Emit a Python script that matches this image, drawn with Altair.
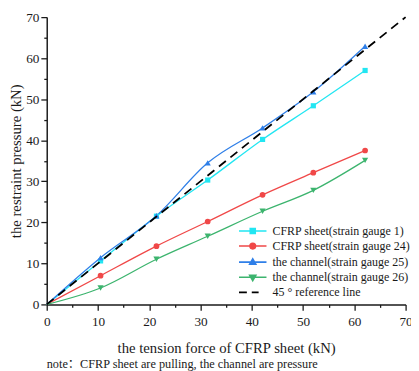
import altair as alt
import pandas as pd

# ---- data ----
x_vals = [0, 10.5, 21.4, 31.4, 42.1, 52.0, 62.1]
gauge1 = [0, 10.6, 21.5, 30.3, 40.2, 48.4, 57.0]
gauge24 = [0, 7.0, 14.2, 20.2, 26.7, 32.1, 37.5]
gauge25 = [0, 11.4, 21.6, 34.5, 43.0, 51.8, 62.9]
gauge26 = [0, 4.0, 11.0, 16.6, 22.7, 27.8, 35.1]
ref_x = [0, 70]
ref_y = [0, 70]

series_names = [
    "CFRP sheet(strain gauge 1)",
    "CFRP sheet(strain gauge 24)",
    "the channel(strain gauge 25)",
    "the channel(strain gauge 26)",
]
ref_name = "45 \u00b0 reference line"
legend_names = series_names + [ref_name]

series_colors = ["#22e6f2", "#f04848", "#2f7fe8", "#3cb46e"]
legend_colors = series_colors + ["#000000"]
marker_shapes = ["square", "circle", "triangle-up", "triangle-down"]
marker_sizes = [28, 34, 40, 40]

LINE = "M-4.67,0H4.67"
legend_paths = [
    LINE + "M-0.85,-0.85H0.85V0.85H-0.85Z",
    LINE + "M0.95,0A0.95,0.95,0,1,1,-0.95,0A0.95,0.95,0,1,1,0.95,0Z",
    LINE + "M0,-1.15L1.05,0.7L-1.05,0.7Z",
    LINE + "M0,1.15L1.05,-0.7L-1.05,-0.7Z",
    "M-4.67,0H-2M-0.33,0H2",
]

rows = []
for name, ys in zip(series_names, [gauge1, gauge24, gauge25, gauge26]):
    for xv, yv in zip(x_vals, ys):
        rows.append({"x": xv, "y": yv, "series": name})
df = pd.DataFrame(rows)
ref_df = pd.DataFrame({"x": ref_x, "y": ref_y, "series": [ref_name, ref_name]})
legend_df = pd.DataFrame({"series": legend_names})

SERIF = "Liberation Serif"
INK = "#1a1a1a"

major_test = "datum.value % 10 === 0"


def make_axis(title, label_pad, title_pad):
    return alt.Axis(
        values=list(range(0, 71, 5)),
        labelExpr=f"{major_test} ? datum.label : ''",
        tickSize={"condition": {"test": major_test, "value": 6}, "value": 3},
        grid=False,
        domainColor=INK,
        domainWidth=1.5,
        tickColor=INK,
        tickWidth=1.3,
        labelFont=SERIF,
        labelFontSize=13.5,
        labelColor=INK,
        labelPadding=label_pad,
        labelFlush=False,
        labelOverlap=False,
        labelBound=False,
        title=title,
        titleFont=SERIF,
        titleFontSize=15,
        titleFontWeight="normal",
        titleColor=INK,
        titlePadding=title_pad,
    )


xscale = alt.Scale(domain=[0, 70], nice=False, zero=False)
yscale = alt.Scale(domain=[0, 70], nice=False, zero=False)
xenc = alt.X("x:Q", scale=xscale, axis=make_axis("the tension force of CFRP sheet (kN)", 4, 14))
yenc = alt.Y("y:Q", scale=yscale, axis=make_axis("the restraint pressure (kN)", 2, 2.5))

color_scale = alt.Scale(domain=series_names, range=series_colors)

lines = alt.Chart(df).mark_line(interpolate="monotone", strokeWidth=1.3).encode(
    x=xenc, y=yenc,
    color=alt.Color("series:N", scale=color_scale, legend=None),
    detail="series:N",
)

marker_layers = []
for name, shp, sz in zip(series_names, marker_shapes, marker_sizes):
    marker_layers.append(
        alt.Chart(df).transform_filter(
            (alt.datum.series == name) & (alt.datum.x > 0)
        ).mark_point(filled=True, shape=shp, size=sz, opacity=1).encode(
            x=xenc, y=yenc,
            color=alt.Color("series:N", scale=color_scale, legend=None),
        )
    )

ref_line = alt.Chart(ref_df).mark_line(color="#000000", strokeWidth=1.8, strokeDash=[9, 6]).encode(
    x=xenc, y=yenc,
)

leg = alt.Legend(
    title=None,
    orient="none",
    legendX=193,
    legendY=212,
    symbolSize=36,
    symbolOffset=11,
    symbolStrokeWidth=1.6,
    labelOffset=14,
    labelFont=SERIF,
    labelFontSize=12.2,
    labelColor=INK,
    labelLimit=300,
    rowPadding=2.4,
    padding=0,
)

legend_layer = alt.Chart(legend_df).transform_filter("false").mark_point(
    filled=True, size=36, strokeWidth=1.6, opacity=1
).encode(
    fill=alt.Fill("series:N", scale=alt.Scale(domain=legend_names, range=legend_colors), legend=leg, sort=legend_names),
    stroke=alt.Stroke("series:N", scale=alt.Scale(domain=legend_names, range=legend_colors), legend=leg, sort=legend_names),
    shape=alt.Shape("series:N", scale=alt.Scale(domain=legend_names, range=legend_paths), legend=leg, sort=legend_names),
)

note = "note\uff1aCFRP sheet are pulling, the channel are pressure"

chart = alt.layer(lines, *marker_layers, ref_line, legend_layer).properties(
    width=366,
    height=293,
    padding={"left": 39.5, "top": 5.7, "right": 5.5, "bottom": 64.3},
    autosize=alt.AutoSizeParams(type="none"),
    title=alt.TitleParams(
        text=note,
        orient="bottom",
        anchor="start",
        frame="group",
        font=SERIF + ", Noto Sans CJK SC",
        fontSize=12.5,
        fontWeight="normal",
        color=INK,
        offset=2,
    ),
    background="white",
).configure_view(stroke=None)

chart.save("out.html", embed_options={"renderer": "svg", "actions": False})
